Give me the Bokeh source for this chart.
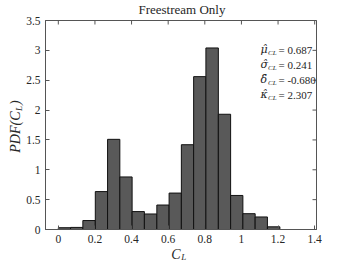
import math
from bokeh.plotting import figure
from bokeh.models import FixedTicker, Label, ColumnDataSource
from bokeh.embed import file_html
from bokeh.resources import INLINE

# ---- data ----
bin_edges = [0.0, 0.067, 0.134, 0.202, 0.269, 0.336, 0.403, 0.470, 0.538, 0.605,
             0.672, 0.739, 0.806, 0.874, 0.941, 1.008, 1.075, 1.142, 1.210]
pdf_values = [0.03, 0.035, 0.15, 0.635, 1.51, 0.88, 0.30, 0.26, 0.41, 0.61,
              1.42, 2.56, 3.04, 1.93, 0.57, 0.265, 0.21, 0.045]
x_ticks = [0, 0.2, 0.4, 0.6, 0.8, 1.0, 1.2, 1.4]
x_tick_labels = ["0", "0.2", "0.4", "0.6", "0.8", "1", "1.2", "1.4"]
y_ticks = [0, 0.5, 1.0, 1.5, 2.0, 2.5, 3.0, 3.5]
y_tick_labels = ["0", "0.5", "1", "1.5", "2", "2.5", "3", "3.5"]
stat_symbols = ["\u03bc\u0302", "\u03c3\u0302", "\u03b4\u0302", "\u03ba\u0302"]
stat_values = ["0.687", "0.241", "-0.680", "2.307"]
title_text = "Freestream Only"

# ---- layout / style ----
FONT = "Liberation Serif"
GREEK_FONT = "DejaVu Serif"
TXT = "#262626"
AX = "#555555"
X0, X1, Y0, Y1 = -0.07, 1.41, 0.0, 3.5          # axes limits
W, H = 350, 263                                   # canvas
FL, FR, FT, FB = 45, 316, 20, 229                 # axes box in canvas pixels
sx = (FR - FL) / (X1 - X0)
sy = (FB - FT) / (Y1 - Y0)
xr = (X0 - FL / sx, X1 + (W - FR) / sx)
yr = (Y0 - (H - FB) / sy, Y1 + FT / sy)
TICK = 4

src = ColumnDataSource(dict(left=bin_edges[:-1], right=bin_edges[1:],
                            top=pdf_values, bottom=[0] * len(pdf_values)))

p = figure(width=W, height=H, x_range=xr, y_range=yr,
           output_backend="svg", toolbar_location=None, title_location=None,
           min_border=0, min_border_left=0, min_border_right=0,
           min_border_top=0, min_border_bottom=0)
p.background_fill_color = "white"
p.border_fill_color = "white"
p.outline_line_color = None
p.xgrid.visible = False
p.ygrid.visible = False

# axes box
p.quad(left=[X0], right=[X1], bottom=[Y0], top=[Y1], fill_color=None,
       line_color=AX, line_width=1)

p.quad(left="left", right="right", top="top", bottom="bottom", source=src,
       fill_color="#595959", line_color="#111111", line_width=1)

def style_axis(ax, ticks, labels):
    ax.ticker = FixedTicker(ticks=ticks)
    ax.major_label_overrides = {t: l for t, l in zip(ticks, labels)}
    ax.major_tick_in = TICK
    ax.major_tick_out = 0
    ax.minor_tick_in = 0
    ax.minor_tick_out = 0
    ax.axis_line_color = AX
    ax.major_tick_line_color = AX
    ax.major_label_text_font = FONT
    ax.major_label_text_font_size = "11.5px"
    ax.major_label_text_color = TXT
    ax.major_label_standoff = 5

xa = p.xaxis[0]
style_axis(xa, x_ticks, x_tick_labels)
xa.fixed_location = Y0
xa.bounds = (X0, X1)
ya = p.yaxis[0]
style_axis(ya, y_ticks, y_tick_labels)
ya.fixed_location = X0
ya.bounds = (Y0, Y1)

# mirrored ticks on top and right edges of the box
p.segment(x0=x_ticks, y0=[Y1] * len(x_ticks), x1=x_ticks,
          y1=[Y1 - TICK / sy] * len(x_ticks), line_color=AX, line_width=1)
p.segment(x0=[X1] * len(y_ticks), y0=y_ticks, x1=[X1 - TICK / sx] * len(y_ticks),
          y1=y_ticks, line_color=AX, line_width=1)

# title
p.add_layout(Label(x=0.675, y=Y1, y_offset=11, text=title_text, text_align="center",
                   text_baseline="middle", text_font=FONT, text_font_size="13px",
                   text_color=TXT))

# x label  C_L
p.add_layout(Label(x=0.668, y=Y0, y_offset=-24.5, text="C", text_align="right",
                   text_baseline="middle", text_font=FONT, text_font_style="italic",
                   text_font_size="14px", text_color=TXT))
p.add_layout(Label(x=0.668, y=Y0, x_offset=0.5, y_offset=-27.5, text="L",
                   text_align="left", text_baseline="middle", text_font=FONT,
                   text_font_style="italic", text_font_size="9px", text_color=TXT))

# y label  PDF(C_L)
ang = math.pi / 2
p.add_layout(Label(x=X0, y=Y0, x_offset=-30, y_offset=118, text="PDF(C",
                   text_align="right", text_baseline="middle", angle=ang,
                   text_font=FONT, text_font_style="italic", text_font_size="14px",
                   text_color=TXT))
p.add_layout(Label(x=X0, y=Y0, x_offset=-27, y_offset=118.5, text="L",
                   text_align="left", text_baseline="middle", angle=ang,
                   text_font=FONT, text_font_style="italic", text_font_size="9px",
                   text_color=TXT))
p.add_layout(Label(x=X0, y=Y0, x_offset=-30, y_offset=124.5, text=")",
                   text_align="left", text_baseline="middle", angle=ang,
                   text_font=FONT, text_font_style="italic", text_font_size="14px",
                   text_color=TXT))

# statistics annotation
for i, (sym, val) in enumerate(zip(stat_symbols, stat_values)):
    yo = -29 - 15 * i
    p.add_layout(Label(x=X1, y=Y1, x_offset=-56, y_offset=yo, text=sym,
                       text_align="left", text_baseline="middle", text_font=GREEK_FONT,
                       text_font_style="italic", text_font_size="11px", text_color=TXT))
    p.add_layout(Label(x=X1, y=Y1, x_offset=-48.5, y_offset=yo - 3, text="CL",
                       text_align="left", text_baseline="middle", text_font=FONT,
                       text_font_style="italic", text_font_size="7px", text_color=TXT))
    p.add_layout(Label(x=X1, y=Y1, x_offset=-38, y_offset=yo, text="= " + val,
                       text_align="left", text_baseline="middle", text_font=FONT,
                       text_font_size="11px", text_color=TXT))

open("out.html", "w").write(file_html(p, INLINE))
